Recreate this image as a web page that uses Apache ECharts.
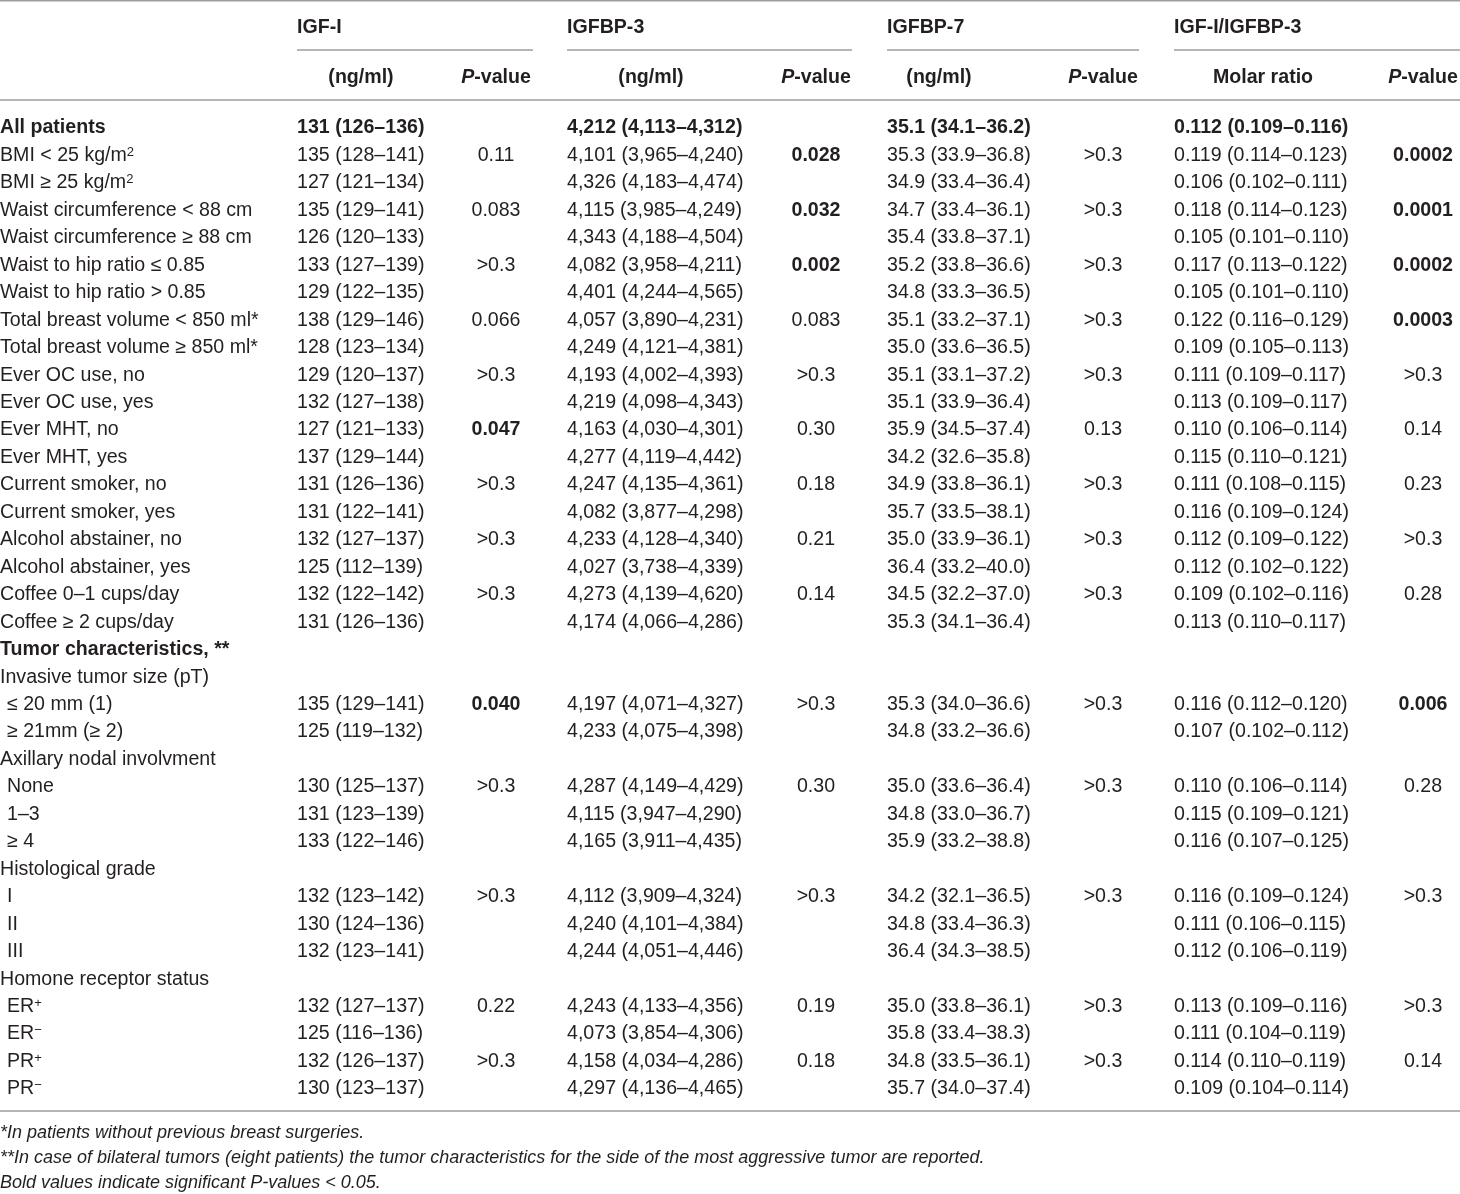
<!DOCTYPE html>
<html>
<head>
<meta charset="utf-8">
<title>IGF-I, IGFBP-3, IGFBP-7 by patient and tumor characteristics</title>
<script src="https://cdn.jsdelivr.net/npm/echarts@6/dist/echarts.min.js"></script>
<style>
  html, body { margin: 0; padding: 0; background: #fff; }
  #main { width: 1460px; height: 1194px; }
</style>
</head>
<body>
<div id="main"></div>
<script>
// table contents
var groupTitles = ['IGF-I', 'IGFBP-3', 'IGFBP-7', 'IGF-I/IGFBP-3'];
var subTitles = ['(ng/ml)', '{it|P}-value', '(ng/ml)', '{it|P}-value', '(ng/ml)', '{it|P}-value', 'Molar ratio', '{it|P}-value'];

var rowLabels = [
    'All patients', 'BMI < 25 kg/m{sup|2}', 'BMI ≥ 25 kg/m{sup|2}',
    'Waist circumference < 88 cm', 'Waist circumference ≥ 88 cm',
    'Waist to hip ratio ≤ 0.85', 'Waist to hip ratio > 0.85',
    'Total breast volume < 850 ml*', 'Total breast volume ≥ 850 ml*',
    'Ever OC use, no', 'Ever OC use, yes', 'Ever MHT, no', 'Ever MHT, yes',
    'Current smoker, no', 'Current smoker, yes',
    'Alcohol abstainer, no', 'Alcohol abstainer, yes',
    'Coffee 0–1 cups/day', 'Coffee ≥ 2 cups/day',
    'Tumor characteristics, **', 'Invasive tumor size (pT)',
    '≤ 20 mm (1)', '≥ 21mm (≥ 2)',
    'Axillary nodal involvment', 'None', '1–3', '≥ 4',
    'Histological grade', 'I', 'II', 'III',
    'Homone receptor status', 'ER{sup|+}', 'ER{sup|−}', 'PR{sup|+}', 'PR{sup|−}'
];
var boldRows = [0, 19];
var indentRows = [21, 22, 24, 25, 26, 28, 29, 30, 32, 33, 34, 35];

var igf1 = [
    '131 (126–136)', '135 (128–141)', '127 (121–134)', '135 (129–141)', '126 (120–133)',
    '133 (127–139)', '129 (122–135)', '138 (129–146)', '128 (123–134)', '129 (120–137)',
    '132 (127–138)', '127 (121–133)', '137 (129–144)', '131 (126–136)', '131 (122–141)',
    '132 (127–137)', '125 (112–139)', '132 (122–142)', '131 (126–136)', '', '',
    '135 (129–141)', '125 (119–132)', '', '130 (125–137)', '131 (123–139)', '133 (122–146)', '',
    '132 (123–142)', '130 (124–136)', '132 (123–141)', '',
    '132 (127–137)', '125 (116–136)', '132 (126–137)', '130 (123–137)'
];
var igf1P = [
    '', '0.11', '', '0.083', '', '>0.3', '', '0.066', '', '>0.3', '', '0.047', '', '>0.3', '',
    '>0.3', '', '>0.3', '', '', '', '0.040', '', '', '>0.3', '', '', '', '>0.3', '', '', '',
    '0.22', '', '>0.3', ''
];
var bp3 = [
    '4,212 (4,113–4,312)', '4,101 (3,965–4,240)', '4,326 (4,183–4,474)', '4,115 (3,985–4,249)',
    '4,343 (4,188–4,504)', '4,082 (3,958–4,211)', '4,401 (4,244–4,565)', '4,057 (3,890–4,231)',
    '4,249 (4,121–4,381)', '4,193 (4,002–4,393)', '4,219 (4,098–4,343)', '4,163 (4,030–4,301)',
    '4,277 (4,119–4,442)', '4,247 (4,135–4,361)', '4,082 (3,877–4,298)', '4,233 (4,128–4,340)',
    '4,027 (3,738–4,339)', '4,273 (4,139–4,620)', '4,174 (4,066–4,286)', '', '',
    '4,197 (4,071–4,327)', '4,233 (4,075–4,398)', '', '4,287 (4,149–4,429)', '4,115 (3,947–4,290)',
    '4,165 (3,911–4,435)', '', '4,112 (3,909–4,324)', '4,240 (4,101–4,384)', '4,244 (4,051–4,446)', '',
    '4,243 (4,133–4,356)', '4,073 (3,854–4,306)', '4,158 (4,034–4,286)', '4,297 (4,136–4,465)'
];
var bp3P = [
    '', '0.028', '', '0.032', '', '0.002', '', '0.083', '', '>0.3', '', '0.30', '', '0.18', '',
    '0.21', '', '0.14', '', '', '', '>0.3', '', '', '0.30', '', '', '', '>0.3', '', '', '',
    '0.19', '', '0.18', ''
];
var bp7 = [
    '35.1 (34.1–36.2)', '35.3 (33.9–36.8)', '34.9 (33.4–36.4)', '34.7 (33.4–36.1)', '35.4 (33.8–37.1)',
    '35.2 (33.8–36.6)', '34.8 (33.3–36.5)', '35.1 (33.2–37.1)', '35.0 (33.6–36.5)', '35.1 (33.1–37.2)',
    '35.1 (33.9–36.4)', '35.9 (34.5–37.4)', '34.2 (32.6–35.8)', '34.9 (33.8–36.1)', '35.7 (33.5–38.1)',
    '35.0 (33.9–36.1)', '36.4 (33.2–40.0)', '34.5 (32.2–37.0)', '35.3 (34.1–36.4)', '', '',
    '35.3 (34.0–36.6)', '34.8 (33.2–36.6)', '', '35.0 (33.6–36.4)', '34.8 (33.0–36.7)', '35.9 (33.2–38.8)', '',
    '34.2 (32.1–36.5)', '34.8 (33.4–36.3)', '36.4 (34.3–38.5)', '',
    '35.0 (33.8–36.1)', '35.8 (33.4–38.3)', '34.8 (33.5–36.1)', '35.7 (34.0–37.4)'
];
var bp7P = [
    '', '>0.3', '', '>0.3', '', '>0.3', '', '>0.3', '', '>0.3', '', '0.13', '', '>0.3', '',
    '>0.3', '', '>0.3', '', '', '', '>0.3', '', '', '>0.3', '', '', '', '>0.3', '', '', '',
    '>0.3', '', '>0.3', ''
];
var ratio = [
    '0.112 (0.109–0.116)', '0.119 (0.114–0.123)', '0.106 (0.102–0.111)', '0.118 (0.114–0.123)',
    '0.105 (0.101–0.110)', '0.117 (0.113–0.122)', '0.105 (0.101–0.110)', '0.122 (0.116–0.129)',
    '0.109 (0.105–0.113)', '0.111 (0.109–0.117)', '0.113 (0.109–0.117)', '0.110 (0.106–0.114)',
    '0.115 (0.110–0.121)', '0.111 (0.108–0.115)', '0.116 (0.109–0.124)', '0.112 (0.109–0.122)',
    '0.112 (0.102–0.122)', '0.109 (0.102–0.116)', '0.113 (0.110–0.117)', '', '',
    '0.116 (0.112–0.120)', '0.107 (0.102–0.112)', '', '0.110 (0.106–0.114)', '0.115 (0.109–0.121)',
    '0.116 (0.107–0.125)', '', '0.116 (0.109–0.124)', '0.111 (0.106–0.115)', '0.112 (0.106–0.119)', '',
    '0.113 (0.109–0.116)', '0.111 (0.104–0.119)', '0.114 (0.110–0.119)', '0.109 (0.104–0.114)'
];
var ratioP = [
    '', '0.0002', '', '0.0001', '', '0.0002', '', '0.0003', '', '>0.3', '', '0.14', '', '0.23', '',
    '>0.3', '', '0.28', '', '', '', '0.006', '', '', '0.28', '', '', '', '>0.3', '', '', '',
    '>0.3', '', '0.14', ''
];

var footnotes = [
    '*In patients without previous breast surgeries.',
    '**In case of bilateral tumors (eight patients) the tumor characteristics for the side of the most aggressive tumor are reported.',
    'Bold values indicate significant P-values < 0.05.'
];

// layout
var FONT = '"Liberation Sans", Arial, sans-serif';
var SIZE = 19.6;
var INK = '#231f20';
var RULE = '#9d9d9d';
var TEXT_DY = 2;
var valueLeft = [297, 567, 887, 1174];
var pCenter = [496, 816, 1103, 1423];
var subCenter = [361, 496, 651, 816, 939, 1103, 1263, 1423];
var groupLineEnd = [533, 852, 1139, 1460];

var rich = {
    sup: { fontSize: 13, fontFamily: FONT, verticalAlign: 'top' },
    it: { fontStyle: 'italic', fontWeight: 'bold', fontSize: SIZE, fontFamily: FONT }
};

var chart = echarts.init(document.getElementById('main'));

function isSignificant(p) {
    return p !== '' && p.charAt(0) !== '>' && parseFloat(p) < 0.05;
}

// one custom series per table column, rows placed on the y axis
function column(name, texts, x, align, boldFn) {
    return {
        type: 'custom',
        name: name,
        coordinateSystem: 'cartesian2d',
        dimensions: ['row'],
        encode: { y: 0 },
        silent: true,
        clip: false,
        data: texts.map(function (t, i) { return [i]; }),
        renderItem: function (params, api) {
            var i = params.dataIndex;
            var txt = texts[i];
            if (!txt) return;
            var pt = api.coord([x(i), api.value(0)]);
            return {
                type: 'text',
                x: pt[0],
                y: pt[1] + TEXT_DY,
                style: {
                    text: txt,
                    fill: INK,
                    fontFamily: FONT,
                    fontSize: SIZE,
                    fontWeight: boldFn(i, txt) ? 'bold' : 'normal',
                    align: align,
                    verticalAlign: 'middle',
                    rich: rich
                }
            };
        }
    };
}

function fixed(v) { return function () { return v; }; }
function allRowBold(i) { return i === 0; }

var series = [
    column('label', rowLabels, function (i) { return indentRows.indexOf(i) >= 0 ? 7 : 0; }, 'left',
        function (i) { return boldRows.indexOf(i) >= 0; }),
    column('IGF-I', igf1, fixed(valueLeft[0]), 'left', allRowBold),
    column('IGF-I P', igf1P, fixed(pCenter[0]), 'center', function (i, t) { return isSignificant(t); }),
    column('IGFBP-3', bp3, fixed(valueLeft[1]), 'left', allRowBold),
    column('IGFBP-3 P', bp3P, fixed(pCenter[1]), 'center', function (i, t) { return isSignificant(t); }),
    column('IGFBP-7', bp7, fixed(valueLeft[2]), 'left', allRowBold),
    column('IGFBP-7 P', bp7P, fixed(pCenter[2]), 'center', function (i, t) { return isSignificant(t); }),
    column('IGF-I/IGFBP-3', ratio, fixed(valueLeft[3]), 'left', allRowBold),
    column('IGF-I/IGFBP-3 P', ratioP, fixed(pCenter[3]), 'center', function (i, t) { return isSignificant(t); })
];

// header, rules and footnotes
var graphics = [];
function rule(x1, x2, y) {
    graphics.push({
        type: 'line', silent: true,
        shape: { x1: x1, y1: y, x2: x2, y2: y },
        style: { stroke: RULE, lineWidth: 1.5 }
    });
}
rule(0, 1460, 0.75);
rule(0, 1460, 100);
rule(0, 1460, 1111);
groupTitles.forEach(function (t, k) {
    rule(valueLeft[k], groupLineEnd[k], 50);
    graphics.push({
        type: 'text', x: valueLeft[k], y: 26 + TEXT_DY, silent: true,
        style: { text: t, fill: INK, fontFamily: FONT, fontSize: SIZE, fontWeight: 'bold',
                 align: 'left', verticalAlign: 'middle' }
    });
});
subTitles.forEach(function (t, k) {
    graphics.push({
        type: 'text', x: subCenter[k], y: 76 + TEXT_DY, silent: true,
        style: { text: t, fill: INK, fontFamily: FONT, fontSize: SIZE, fontWeight: 'bold',
                 align: 'center', verticalAlign: 'middle', rich: rich }
    });
});
footnotes.forEach(function (t, k) {
    graphics.push({
        type: 'text', x: 0, y: 1133 + k * 25, silent: true,
        style: { text: t, fill: INK, fontFamily: FONT, fontSize: 18, fontStyle: 'italic',
                 align: 'left', verticalAlign: 'middle' }
    });
});

var option = {
    backgroundColor: '#fff',
    animation: false,
    grid: { left: 0, right: 0, top: 126, bottom: 107 },
    xAxis: { type: 'value', min: 0, max: 1460, show: false },
    yAxis: { type: 'value', min: 0, max: rowLabels.length - 1, inverse: true, show: false },
    graphic: graphics,
    series: series
};
chart.setOption(option);
</script>
</body>
</html>
